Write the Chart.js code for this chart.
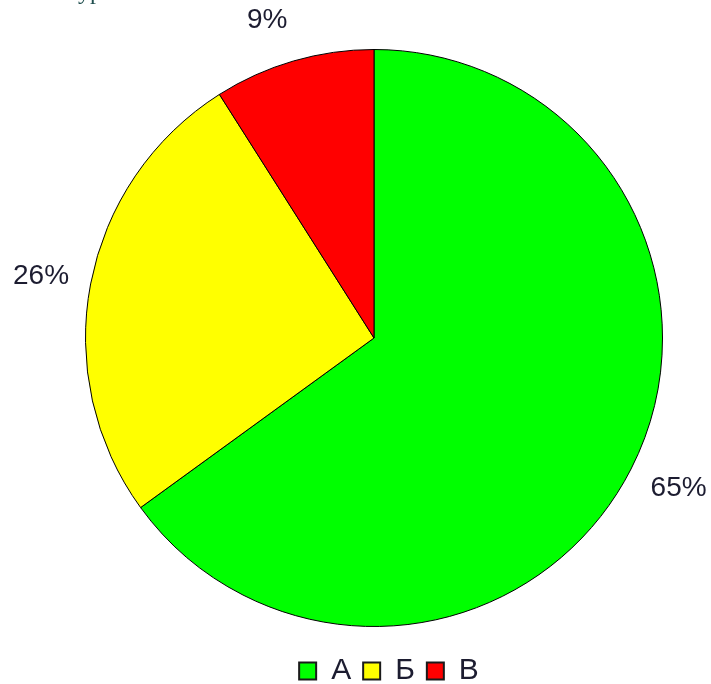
<!DOCTYPE html>
<html>
<head>
<meta charset="utf-8">
<script src="https://cdn.jsdelivr.net/npm/chart.js@4"></script>
<style>
  html, body { margin: 0; padding: 0; background: #fff; }
  #wrap { width: 711px; height: 684px; position: relative; }
</style>
</head>
<body>
<div id="wrap"><canvas id="pie"></canvas></div>
<script>
/* ── данные ── */
const categories = ['A', 'Б', 'В'];
const shares = [65, 26, 9];
const sliceColors = ['#00ff00', '#ffff00', '#ff0000'];

/* подписи процентов снаружи круга (как в R: слева — по правому краю, справа — по левому) */
const outsideLabels = {
  id: 'outsideLabels',
  afterDatasetsDraw(chart) {
    const ctx = chart.ctx;
    const meta = chart.getDatasetMeta(0);
    ctx.save();
    ctx.font = "28px 'Liberation Sans', Arial, sans-serif";
    ctx.fillStyle = '#1c1c30';
    ctx.textBaseline = 'middle';
    meta.data.forEach((arc, i) => {
      const p = arc.getProps(['x', 'y', 'startAngle', 'endAngle', 'outerRadius'], true);
      const mid = (p.startAngle + p.endAngle) / 2;
      const cx = Math.cos(mid), cy = Math.sin(mid);
      ctx.textAlign = cx < 0 ? 'right' : 'left';
      ctx.fillText(shares[i] + '%', p.x + cx * p.outerRadius * 1.076, p.y + cy * p.outerRadius * 1.146);
    });
    ctx.restore();
  }
};

/* сдвиг легенды под круг */
const legendShift = {
  id: 'legendShift',
  afterLayout(chart) {
    const lg = chart.legend;
    if (!lg) return;
    const dx = 15, dy = 12;
    lg.left += dx; lg.right += dx;
    lg.top += dy; lg.bottom += dy;
  }
};

/* обрезанный хвост заголовка сверху */
const clippedTitle = {
  id: 'clippedTitle',
  afterDraw(chart) {
    const ctx = chart.ctx;
    ctx.save();
    ctx.font = "24px 'Liberation Serif', serif";
    ctx.fillStyle = '#1f4e4e';
    ctx.textBaseline = 'alphabetic';
    ctx.fillText('ур', 78, -1);
    ctx.restore();
  }
};

new Chart(document.getElementById('pie'), {
  type: 'pie',
  data: {
    labels: categories,
    datasets: [{
      data: shares,
      backgroundColor: sliceColors,
      borderColor: '#000',
      borderWidth: 1,
      hoverOffset: 0,
    }]
  },
  options: {
    responsive: true, maintainAspectRatio: false,
    animation: false,
    layout: { padding: { top: 44, left: 85, right: 48, bottom: 0 } },
    plugins: {
      legend: {
        position: 'bottom',
        labels: {
          boxWidth: 17, boxHeight: 17, padding: 12,
          color: '#1c1c30',
          font: { size: 30, family: "'Liberation Sans', Arial, sans-serif" },
          generateLabels: chart => categories.map((c, i) => ({
            text: c,
            fillStyle: sliceColors[i],
            strokeStyle: '#1a1a1a',
            lineWidth: 2,
            fontColor: '#1c1c30',
            index: i,
            hidden: false,
          }))
        }
      },
      tooltip: { enabled: false }
    }
  },
  plugins: [outsideLabels, legendShift, clippedTitle]
});
</script>
</body>
</html>
